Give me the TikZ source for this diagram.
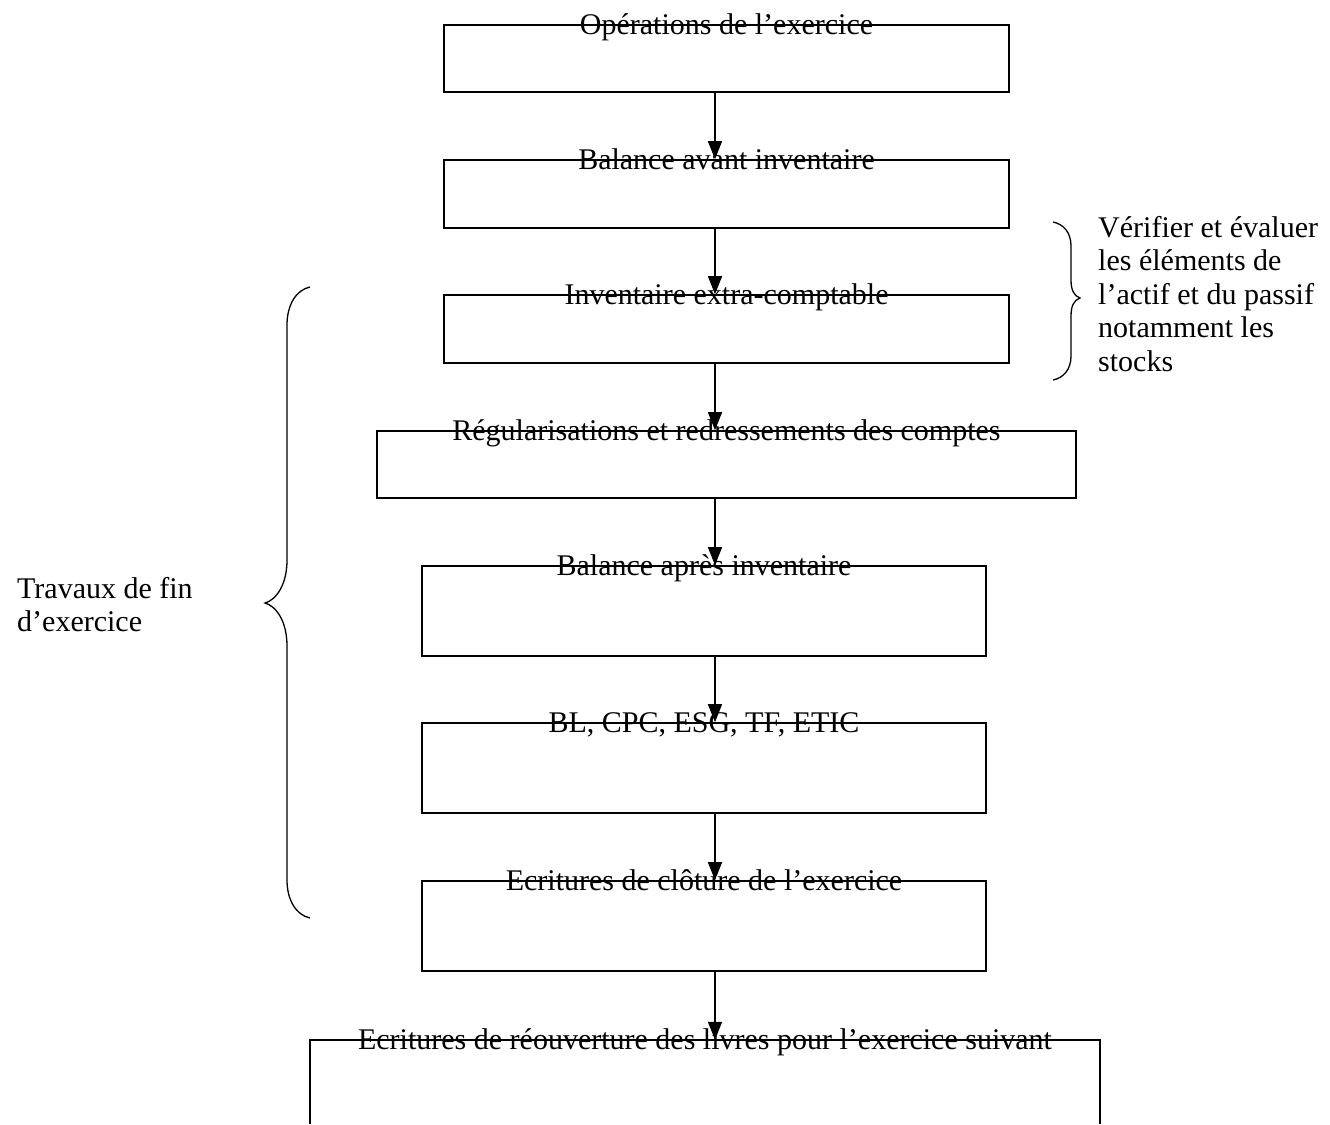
\documentclass[tikz,border=0pt]{standalone}
\usepackage{fontspec}
\setmainfont{Liberation Serif}
\usetikzlibrary{arrows.meta}
\begin{document}
\begin{tikzpicture}[x=1pt,y=-1pt,
  box/.style={draw, line width=1.6pt, inner sep=0pt},
  lbl/.style={inner sep=0pt, font=\fontsize{30}{33.5}\selectfont},
  txt/.style={inner sep=0pt, align=left, font=\fontsize{30}{33.5}\selectfont},
  flow/.style={line width=1.4pt, -{Triangle[length=18pt,width=14pt]}},
  brace/.style={line width=1.3pt}]
\useasboundingbox (0,0) rectangle (1330,1124);
% boxes
\node[box, minimum width=565pt, minimum height=67pt] (b1) at (726.5,58.5) {};
\node[box, minimum width=565pt, minimum height=68pt] (b2) at (726.5,194) {};
\node[box, minimum width=565pt, minimum height=68pt] (b3) at (726.5,329) {};
\node[box, minimum width=699pt, minimum height=67pt] (b4) at (726.5,464.5) {};
\node[box, minimum width=564pt, minimum height=90pt] (b5) at (704,611) {};
\node[box, minimum width=564pt, minimum height=90pt] (b6) at (704,768) {};
\node[box, minimum width=564pt, minimum height=90pt] (b7) at (704,926) {};
\node[inner sep=0pt, minimum width=790pt, minimum height=84pt] (b8) at (705,1082) {};
\draw[line width=1.6pt] (b8.south west) -- (b8.north west) -- (b8.north east) -- (b8.south east);
% labels
\node[lbl, anchor=base] (t1) at ([yshift=-10pt]b1.north) {Opérations de l’exercice};
\node[lbl, anchor=base] (t2) at ([yshift=-10pt]b2.north) {Balance avant inventaire};
\node[lbl, anchor=base] (t3) at ([yshift=-10pt]b3.north) {Inventaire extra-comptable};
\node[lbl, anchor=base] (t4) at ([yshift=-10pt]b4.north) {Régularisations et redressements des comptes};
\node[lbl, anchor=base] (t5) at ([yshift=-10pt]b5.north) {Balance après inventaire};
\node[lbl, anchor=base] (t6) at ([yshift=-10pt]b6.north) {BL, CPC, ESG, TF, ETIC};
\node[lbl, anchor=base] (t7) at ([yshift=-10pt]b7.north) {Ecritures de clôture de l’exercice};
\node[lbl, anchor=base] (t8) at ([yshift=-10pt]b8.north) {Ecritures de réouverture des livres pour l’exercice suivant};
% arrows
\draw[flow] (b1.south -| 715,0) -- (b2.north -| 715,0);
\draw[flow] (b2.south -| 715,0) -- (b3.north -| 715,0);
\draw[flow] (b3.south -| 715,0) -- (b4.north -| 715,0);
\draw[flow] (b4.south -| 715,0) -- (b5.north -| 715,0);
\draw[flow] (b5.south -| 715,0) -- (b6.north -| 715,0);
\draw[flow] (b6.south -| 715,0) -- (b7.north -| 715,0);
\draw[flow] (b7.south -| 715,0) -- (b8.north -| 715,0);
% braces
\draw[brace] (310,287) .. controls (296,290) and (287,305) .. (287,325)
  -- (287,560) .. controls (287,585) and (276,600) .. (265,603)
  .. controls (276,606) and (287,621) .. (287,646)
  -- (287,880) .. controls (287,900) and (296,915) .. (310,918);
\draw[brace] (1053,222) .. controls (1063,224) and (1071,232) .. (1071,246)
  -- (1071,280) .. controls (1071,290) and (1074,296) .. (1080,298)
  .. controls (1074,300) and (1071,306) .. (1071,316)
  -- (1071,356) .. controls (1071,370) and (1063,378) .. (1053,380);
% side texts
\node[txt, anchor=north west] (right) at (1098,216) {Vérifier et évaluer\\les éléments de\\l’actif et du passif\\notamment les\\stocks};
\node[txt, anchor=north west] (left) at (17,577) {Travaux de fin\\d’exercice};
\end{tikzpicture}
\end{document}
